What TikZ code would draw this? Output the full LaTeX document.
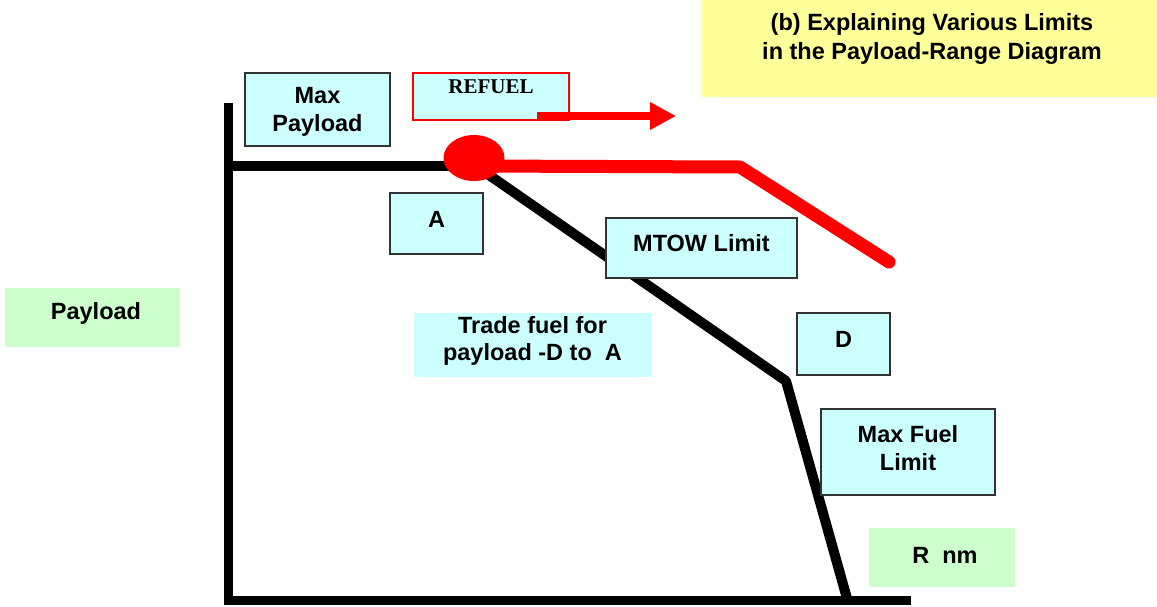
\documentclass[tikz,border=0pt]{standalone}
\usepackage{fontspec}
\setmainfont{Liberation Sans}
\newfontfamily\refuelfont{Liberation Serif}
\usetikzlibrary{arrows.meta,shapes.geometric}
\definecolor{cyanbox}{HTML}{CCFFFF}
\definecolor{greenbox}{HTML}{CCFFCC}
\definecolor{yellowbox}{HTML}{FFFF99}
\definecolor{redline}{HTML}{FF0000}
\definecolor{boxline}{HTML}{333333}
\tikzset{
  boxc/.style={draw=boxline, line width=1.2pt, fill=cyanbox, inner sep=0pt},
  boxg/.style={fill=greenbox, inner sep=0pt},
  boxy/.style={fill=yellowbox, inner sep=0pt},
  lbl/.style={font=\fontsize{23.5}{27.5}\selectfont\bfseries, align=center, inner sep=0pt},
  blk/.style={line width=10pt, black, line join=round},
  redl/.style={line width=13pt, redline, line cap=round, line join=round},
}
\begin{document}
\begin{tikzpicture}[x=1pt,y=-1pt]
\useasboundingbox (0,0) rectangle (1157,606);
% title
\node[boxy, minimum width=456pt, minimum height=97pt] (title) at (929,48.5) {};
\node[lbl, font=\fontsize{23.5}{29}\selectfont\bfseries] (titletxt) at (932,39) {(b) Explaining Various Limits\\ in the Payload-Range Diagram};
% axes and curves
\coordinate (ytop) at (228,103);
\coordinate (origin) at (228,600);
\coordinate (xend) at (911,600);
\coordinate (mp) at (228,166);
\coordinate (ptA) at (476,166);
\coordinate (ptD) at (786,381);
\coordinate (ptE) at (848,602);
\coordinate (rk) at (740,167);
\coordinate (rend) at (889,262);
\draw[line width=9pt] (ytop) -- (origin);
\draw[line width=9pt] (224,600) -- (xend);
\draw[blk] (mp) -- (ptA);
\draw[blk] (ptA) -- (ptD) -- (ptE);
\draw[redl] (ptA) -- (rk) -- (rend);
\node[ellipse, fill=redline, minimum width=61pt, minimum height=46pt, inner sep=0pt] (circ) at (474,158) {};
% refuel
\node[draw=redline, line width=1.2pt, fill=cyanbox, inner sep=0pt, minimum width=156pt, minimum height=47pt] (refuel) at (491,96.5) {};
\node[font=\fontsize{21}{22}\selectfont\refuelfont\bfseries, inner sep=0pt] (refueltxt) at (491,87) {REFUEL};
\coordinate (arrs) at (537,116);
\coordinate (arre) at (676,116);
\draw[line width=8pt, redline, -{Triangle[length=26pt,width=26pt]}] (arrs) -- (arre);
% boxes
\node[boxc, minimum width=145pt, minimum height=73pt] (maxp) at (317.5,109.5) {};
\node[lbl] (maxptxt) at (317.5,112) {Max\\Payload};
\node[boxc, minimum width=93pt, minimum height=61pt] (boxA) at (436.5,223.5) {};
\node[lbl] (Atxt) at (436.5,219) {A};
\node[boxc, minimum width=191pt, minimum height=60pt] (mtow) at (701.5,248) {};
\node[lbl] (mtowtxt) at (701.5,243) {MTOW Limit};
\node[boxc, minimum width=93pt, minimum height=62pt] (boxD) at (843.5,344) {};
\node[lbl] (Dtxt) at (843.5,339) {D};
\node[boxc, minimum width=174pt, minimum height=86pt] (mfuel) at (908,452) {};
\node[lbl] (mfueltxt) at (908,448) {Max Fuel\\Limit};
\node[fill=cyanbox, inner sep=0pt, minimum width=237pt, minimum height=64pt] (trade) at (532.5,345) {};
\node[lbl] (tradetxt) at (532.5,341) {Trade fuel for\\payload -D to\ \ A};
\node[boxg, minimum width=146pt, minimum height=59pt] (rnm) at (942,557.5) {};
\node[lbl] (rnmtxt) at (945,555) {R\ \ nm};
\node[boxg, minimum width=175pt, minimum height=59pt] (pay) at (92.5,317.5) {};
\node[lbl] (paytxt) at (96,313) {Payload};
\end{tikzpicture}
\end{document}
